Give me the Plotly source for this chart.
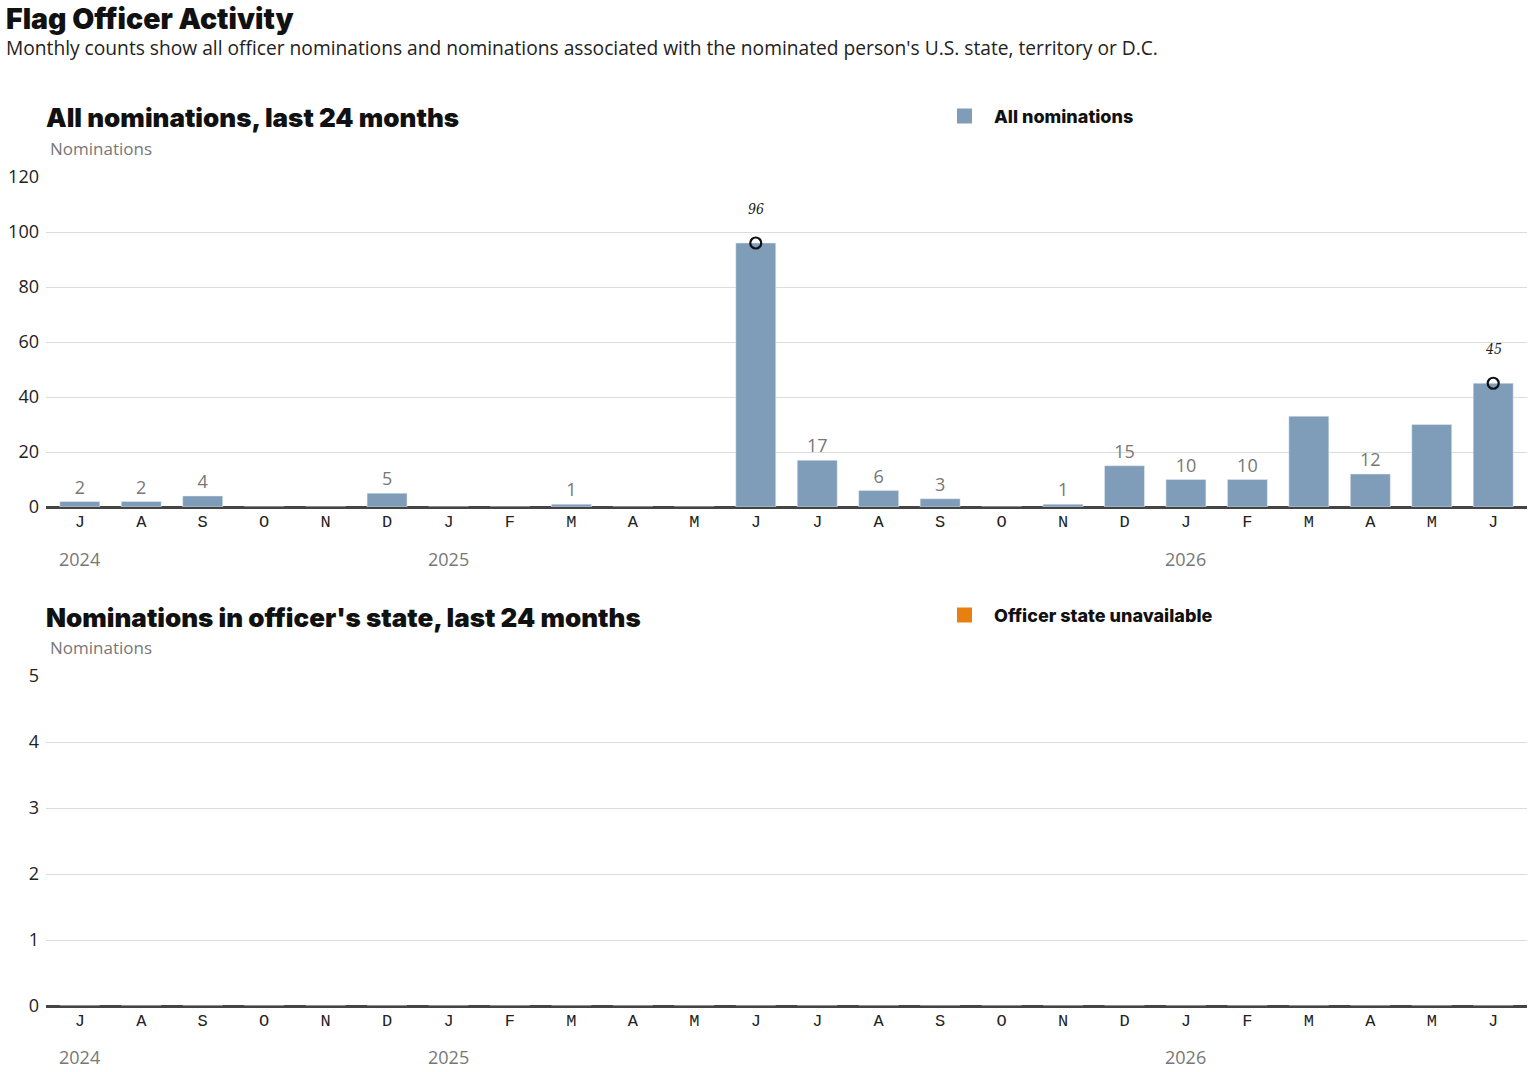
import plotly.graph_objects as go

W, H = 1531, 1072

months = ["J", "A", "S", "O", "N", "D", "J", "F", "M", "A", "M", "J",
          "J", "A", "S", "O", "N", "D", "J", "F", "M", "A", "M", "J"]
all_nominations = [2, 2, 4, 0, 0, 5, 0, 0, 1, 0, 0, 96,
                   17, 6, 3, 0, 1, 15, 10, 10, 33, 12, 30, 45]
value_labels = ["2", "2", "4", "", "", "5", "", "", "1", "", "", "",
                "17", "6", "3", "", "1", "15", "10", "10", "", "12", "", ""]
highlight_idx = [11, 23]
state_unavailable = [0] * 24
years = [(0, "2024"), (6, "2025"), (18, "2026")]

x = list(range(24))

def px(xp):
    return xp / W

def py(yp):
    return 1 - yp / H

BAR = "#7f9cb9"
ORANGE = "#e8800f"
BODY = "Open Sans"
HEAVY = "Inter"
MONO = "Liberation Mono"

fig = go.Figure()

fig.add_trace(go.Bar(
    x=x, y=all_nominations, name="All nominations", marker_color=BAR,
    width=0.65, text=value_labels, textposition="outside",
    textfont=dict(family=BODY, size=18, color="#777"), cliponaxis=False,
    xaxis="x", yaxis="y", showlegend=False,
))
fig.add_trace(go.Scatter(
    x=[x[i] for i in highlight_idx], y=[all_nominations[i] for i in highlight_idx],
    mode="markers", marker=dict(symbol="circle-open", size=11, color="#111",
                                line=dict(width=2.2, color="#111")),
    showlegend=False, xaxis="x", yaxis="y", cliponaxis=False,
))
fig.add_trace(go.Bar(
    x=x, y=state_unavailable, name="Officer state unavailable", marker_color=ORANGE,
    width=0.65, xaxis="x2", yaxis="y2", showlegend=False,
))

xdom = [px(46), px(1527)]
common_x = dict(
    domain=xdom, range=[-0.55, 23.55], tickmode="array", tickvals=x, ticktext=months,
    tickfont=dict(family=MONO, size=17, color="#222"), showgrid=False,
    showline=False, zeroline=False, ticks="", fixedrange=True, ticklabelstandoff=2,
)
ytick_font = dict(family=BODY, size=18, color="#222")
fig.update_layout(
    xaxis=dict(**common_x, anchor="y"),
    xaxis2=dict(**common_x, anchor="y2"),
    yaxis=dict(domain=[py(507), py(177)], range=[0, 120], tickvals=[0, 20, 40, 60, 80, 100, 120],
               gridcolor="#dcdcdc", gridwidth=1, zeroline=True, zerolinecolor="#444",
               zerolinewidth=2.5, tickfont=ytick_font, ticklabelstandoff=6, anchor="x"),
    yaxis2=dict(domain=[py(1006), py(676)], range=[0, 5], tickvals=[0, 1, 2, 3, 4, 5],
                gridcolor="#dcdcdc", gridwidth=1, zeroline=True, zerolinecolor="#444",
                zerolinewidth=2.5, tickfont=ytick_font, ticklabelstandoff=6, anchor="x2"),
    width=W, height=H, margin=dict(l=0, r=0, t=0, b=0, autoexpand=False),
    paper_bgcolor="white", plot_bgcolor="white", barmode="overlay",
    showlegend=False,
)

ann = []
shapes = []
ann.append(dict(text="Flag Officer Activity", x=px(5), y=1, xref="paper", yref="paper",
                xanchor="left", yanchor="top", showarrow=False, borderpad=0,
                font=dict(family=HEAVY, size=28.5, color="#111", weight=900)))
ann.append(dict(text="Monthly counts show all officer nominations and nominations associated with the nominated person's U.S. state, territory or D.C.",
                x=px(5), y=py(47.5), xref="paper", yref="paper", xanchor="left", yanchor="middle",
                showarrow=False, borderpad=0,
                font=dict(family=BODY, size=19.2, color="#222")))
for title, ty in [("All nominations, last 24 months", 118), ("Nominations in officer's state, last 24 months", 617)]:
    ann.append(dict(text=title, x=px(44), y=py(ty), xref="paper", yref="paper",
                    xanchor="left", yanchor="middle", showarrow=False,
                    font=dict(family=HEAVY, size=26, color="#111", weight=900)))
for sy in [148, 647]:
    ann.append(dict(text="Nominations", x=px(48), y=py(sy), xref="paper", yref="paper",
                    xanchor="left", yanchor="middle", showarrow=False,
                    font=dict(family=BODY, size=17, color="#777")))
# legends
for name, color, ly in [("All nominations", BAR, 116), ("Officer state unavailable", ORANGE, 615)]:
    shapes.append(dict(type="rect", xref="paper", yref="paper", x0=px(957), x1=px(972),
                       y0=py(ly - 7.5), y1=py(ly + 7.5), fillcolor=color, line=dict(width=0)))
    ann.append(dict(text=name, x=px(992), y=py(ly), xref="paper", yref="paper",
                    xanchor="left", yanchor="middle", showarrow=False,
                    font=dict(family=HEAVY, size=18, color="#111", weight=800)))
for xr, yy in [("x", 559), ("x2", 1057)]:
    for i, yr in years:
        ann.append(dict(text=yr, x=i, y=py(yy), xref=xr, yref="paper", xanchor="center",
                        yanchor="middle", showarrow=False,
                        font=dict(family=BODY, size=18, color="#777")))
for i in highlight_idx:
    ann.append(dict(text=f"<i>{all_nominations[i]}</i>", x=i, y=all_nominations[i], xref="x", yref="y",
                    xanchor="center", yanchor="bottom", yshift=24, showarrow=False,
                    font=dict(family="DejaVu Serif Condensed", size=14, color="#222")))
fig.update_layout(annotations=ann, shapes=shapes)

fig.write_html("out.html")
